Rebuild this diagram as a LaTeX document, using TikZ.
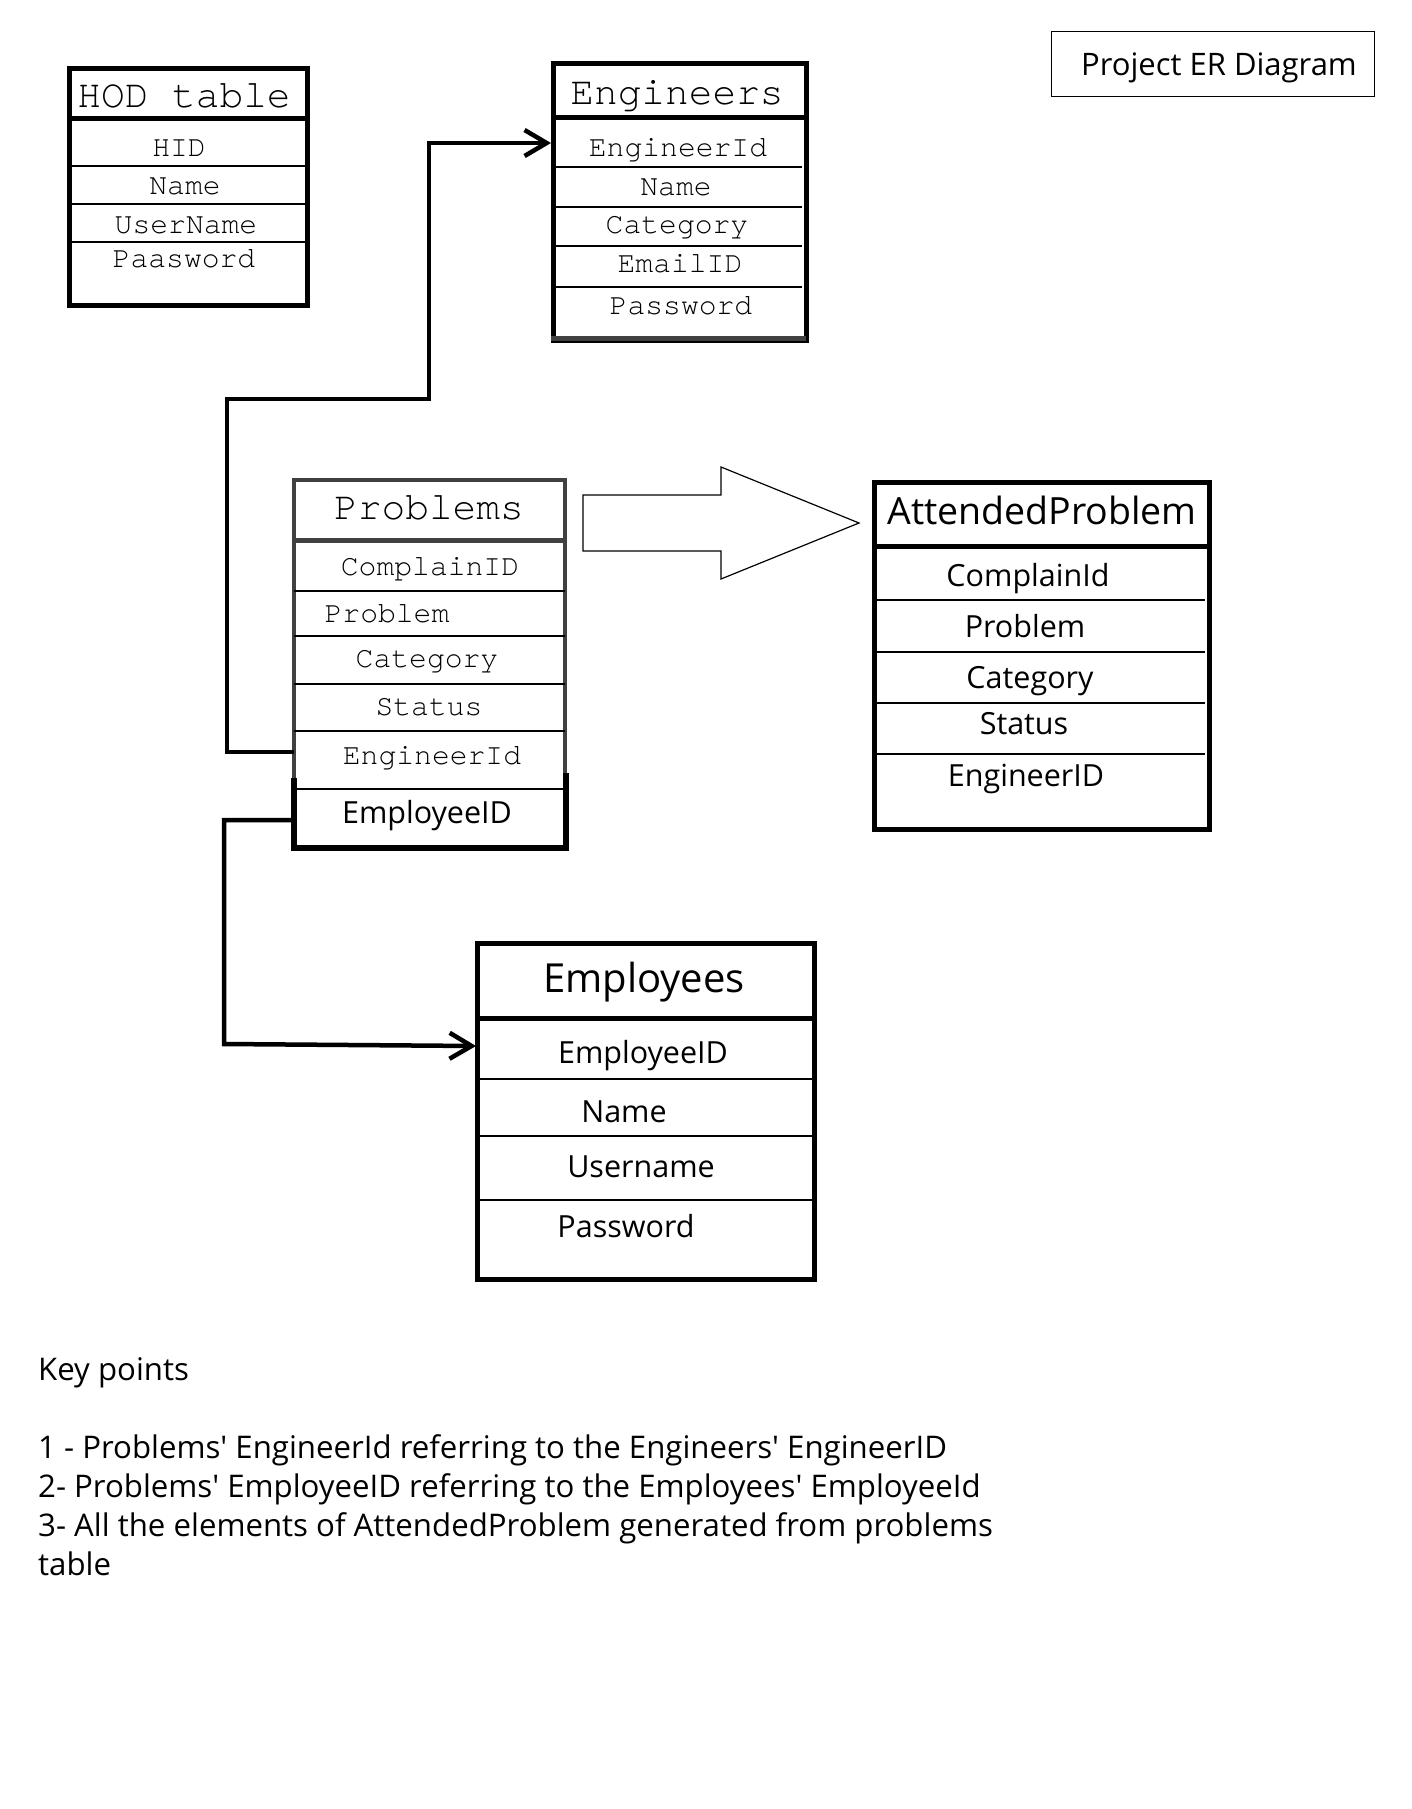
\documentclass[tikz,border=0pt]{standalone}
\usepackage{fontspec}
\setmainfont{Open Sans}
\newfontfamily\monofont{TeX Gyre Cursor}
\usetikzlibrary{arrows.meta}
\definecolor{framegray}{HTML}{404040}
\newcommand{\q}{\textquotesingle}
\begin{document}
\begin{tikzpicture}[x=1pt,y=-1pt,
  tbl/.style={draw, line width=5pt, inner sep=0pt, anchor=north west},
  headline/.style={line width=5pt},
  rowline/.style={line width=1.3pt},
  mhead/.style={font=\monofont\fontsize{39.5}{44}\selectfont, inner sep=0pt, text height=23.4pt, text depth=0pt},
  mcell/.style={font=\monofont\fontsize{29.7}{34}\selectfont, inner sep=0pt, text height=17.8pt, text depth=0pt},
  shead/.style={font=\fontsize{40}{48}\selectfont, inner sep=0pt, text height=28.6pt, text depth=0pt},
  scell/.style={font=\fontsize{30.5}{36}\selectfont, inner sep=0pt, text height=21.8pt, text depth=0pt},
  keytext/.style={font=\fontsize{31.2}{39}\selectfont, inner sep=0pt, anchor=base west},
  link/.style={line width=4.5pt, line join=miter},
  conn/.style={link, -{Straight Barb[length=22pt,width=26pt]}}]

\useasboundingbox[fill=white] (0,0) rectangle (1412,1809);

% title box
\node[draw, line width=1.3pt, anchor=north west, minimum width=323pt, minimum height=65pt] (titlebox) at (1051,31) {};
\node[font=\fontsize{31}{38}\selectfont, inner sep=0pt, text height=22.2pt, text depth=0pt] (title) at (1219,64) {Project ER Diagram};

% HOD table
\node[tbl, minimum width=238pt, minimum height=237pt] (hod) at (67,66) {};
\draw[headline] (67,119) -- (305,119);
\draw[rowline] (67,166) -- (307,166);
\draw[rowline] (67,204) -- (305,204);
\draw[rowline] (67,242) -- (305,242);
\node[mhead] (hod-t) at (184,96) {HOD table};
\node[mcell] (hod-1) at (179,148) {HID};
\node[mcell] (hod-2) at (185,186) {Name};
\node[mcell] (hod-3) at (186,225) {UserName};
\node[mcell] (hod-4) at (184,259) {Paasword};

% Engineers
\node[tbl, minimum width=253pt, minimum height=277pt] (eng) at (551,61) {};
\draw[line width=5pt, framegray] (551,338) -- (806,338);
\draw[headline] (551,118) -- (804,118);
\draw[rowline] (551,167) -- (802,167);
\draw[rowline] (551,207) -- (802,207);
\draw[rowline] (551,246) -- (802,246);
\draw[rowline] (551,287) -- (802,287);
\node[mhead] (eng-t) at (677,93) {Engineers};
\node[mcell] (eng-1) at (678,148) {EngineerId};
\node[mcell] (eng-2) at (676,187) {Name};
\node[mcell] (eng-3) at (677,225) {Category};
\node[mcell] (eng-4) at (680,264) {EmailID};
\node[mcell] (eng-5) at (681,306) {Password};
\coordinate (eng-in) at (551,143);

% Problems: grey frame for the upper rows, black frame round the last row
\node[inner sep=0pt, anchor=north west, minimum width=271pt, minimum height=368pt] (prob) at (294,480) {};
\draw[line width=4.5pt, framegray, line join=miter] (294,789) -- (294,480) -- (565,480) -- (565,776);
\draw[headline, framegray] (294,540) -- (565,540);
\draw[rowline] (294,591) -- (565,591);
\draw[rowline] (294,636) -- (565,636);
\draw[rowline] (294,684) -- (565,684);
\draw[rowline] (294,731) -- (565,731);
\draw[rowline] (294,789) -- (565,789);
\draw[line width=5.5pt, line join=miter] (294,778) -- (294,848) -- (566,848) -- (566,773);
\node[mhead] (prob-t) at (429,508) {Problems};
\node[mcell] (prob-1) at (430,567) {ComplainID};
\node[mcell] (prob-2) at (387,614) {Problem};
\node[mcell] (prob-3) at (427,659) {Category};
\node[mcell] (prob-4) at (429,707) {Status};
\node[mcell] (prob-5) at (432,756) {EngineerId};
\node[scell] (prob-6) at (427,813) {EmployeeID};
\coordinate (prob-eng) at (294,752);
\coordinate (prob-emp) at (294,820);

% AttendedProblem
\node[tbl, minimum width=335pt, minimum height=347pt] (att) at (872,480) {};
\draw[headline] (872,546) -- (1207,546);
\draw[rowline] (872,600) -- (1205,600);
\draw[rowline] (872,652) -- (1205,652);
\draw[rowline] (872,703) -- (1205,703);
\draw[rowline] (872,754) -- (1205,754);
\node[shead, font=\fontsize{37.5}{46}\selectfont, text height=26.8pt] (att-t) at (1042,511) {AttendedProblem};
\node[scell] (att-1) at (1028,576) {ComplainId};
\node[scell] (att-2) at (1025,627) {Problem};
\node[scell] (att-3) at (1030,678) {Category};
\node[scell] (att-4) at (1024,724) {Status};
\node[scell] (att-5) at (1026,776) {EngineerID};

% block arrow from Problems to AttendedProblem
\draw[line width=1.2pt, fill=white] (583,495) -- (721,495) -- (721,467) -- (859,523)
  -- (721,579) -- (721,551) -- (583,551) -- cycle;

% Employees
\node[tbl, minimum width=337pt, minimum height=336pt] (emp) at (475,941) {};
\draw[headline] (475,1018) -- (812,1018);
\draw[rowline] (475,1079) -- (812,1079);
\draw[rowline] (475,1136) -- (817,1136);
\draw[rowline] (475,1200) -- (812,1200);
\node[shead] (emp-t) at (644,978) {Employees};
\node[scell] (emp-1) at (643,1053) {EmployeeID};
\node[scell] (emp-2) at (624,1112) {Name};
\node[scell] (emp-3) at (641,1167) {Username};
\node[scell] (emp-4) at (626,1227) {Password};
\coordinate (emp-in) at (476,1046);

% foreign-key connectors
\draw[conn] (prob-eng) -- (227,752) -- (227,399) -- (429,399) -- (429,143) -- (eng-in);
\draw[conn] (prob-emp) -- (224,820) -- (224,1044) -- (emp-in);

% notes
\node[keytext] (key-h) at (38,1380) {Key points};
\node[keytext] (key-1) at (38,1458) {1 - Problems\q{} EngineerId referring to the Engineers\q{} EngineerID};
\node[keytext] (key-2) at (38,1497) {2- Problems\q{} EmployeeID referring to the Employees\q{} EmployeeId};
\node[keytext] (key-3) at (38,1536) {3- All the elements of AttendedProblem generated from problems};
\node[keytext] (key-4) at (38,1575) {table};
\end{tikzpicture}
\end{document}
